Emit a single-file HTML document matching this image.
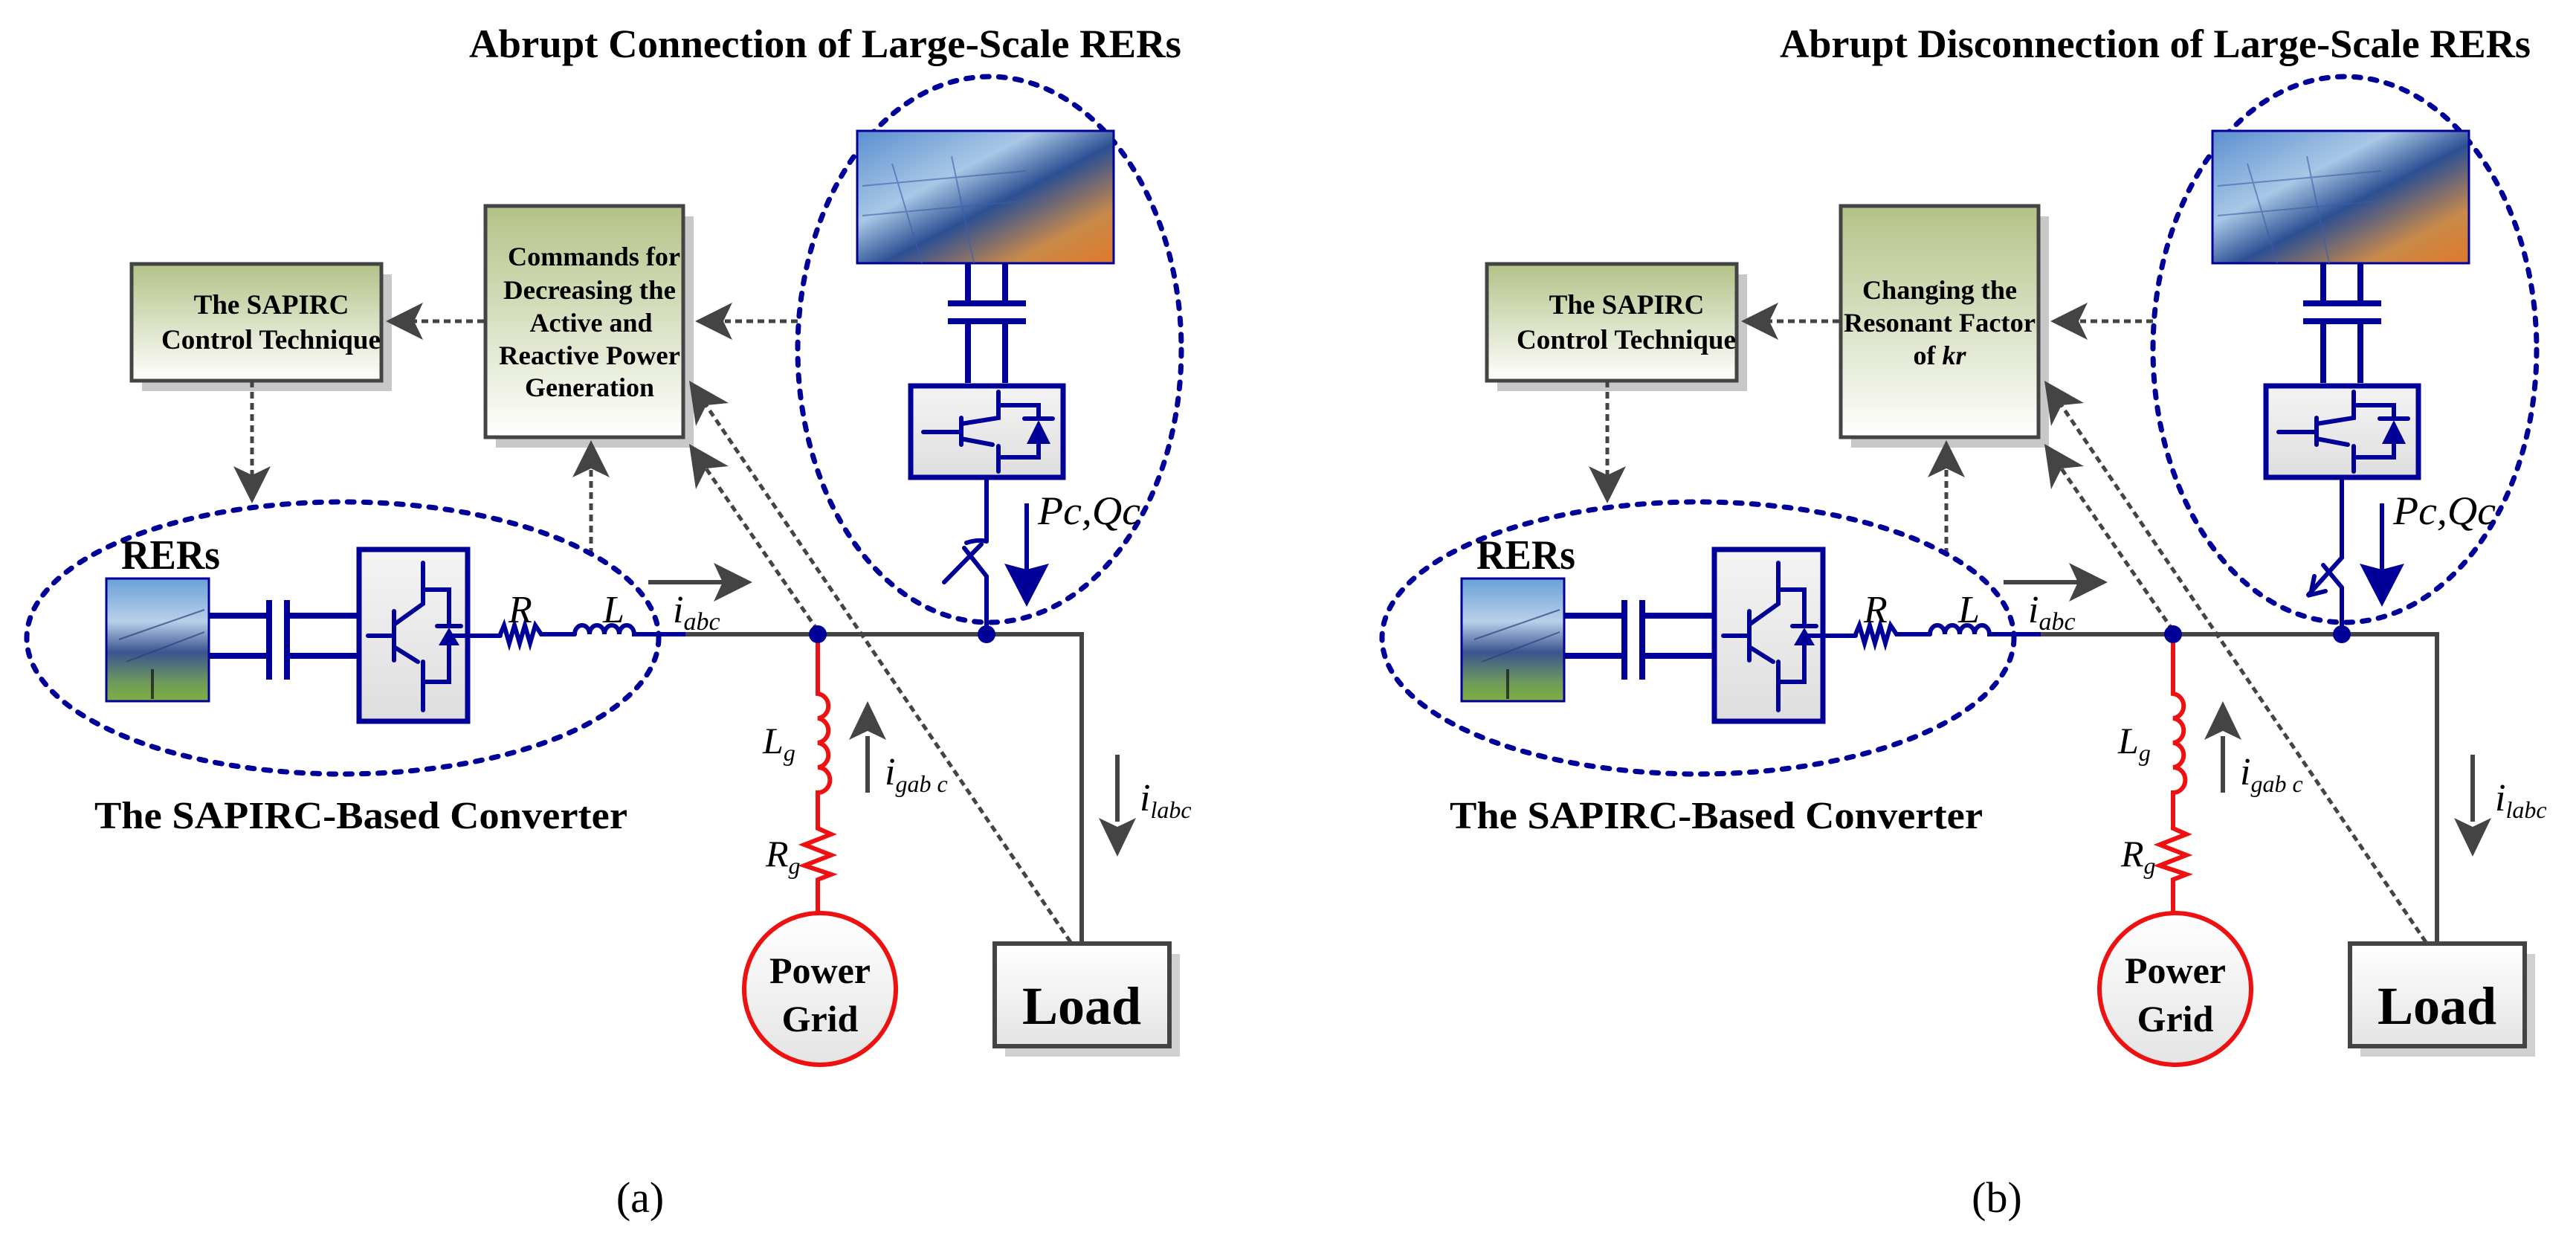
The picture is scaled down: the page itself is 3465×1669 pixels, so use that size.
<!DOCTYPE html>
<html><head><meta charset="utf-8"><style>html,body{margin:0;padding:0;background:#fff}svg{display:block}</style></head>
<body>
<svg width="3465" height="1669" viewBox="0 0 3465 1669" xmlns="http://www.w3.org/2000/svg" font-family="Liberation Serif, serif">
<defs>
<linearGradient id="gr" x1="0" y1="0" x2="0" y2="1"><stop offset="0" stop-color="#b3c287"/><stop offset="1" stop-color="#ffffff"/></linearGradient>
<linearGradient id="inv" x1="0" y1="0" x2="0" y2="1"><stop offset="0" stop-color="#f4f4f4"/><stop offset="1" stop-color="#dedede"/></linearGradient>
<linearGradient id="pg" x1="0" y1="0" x2="0" y2="1"><stop offset="0" stop-color="#ffffff"/><stop offset="1" stop-color="#e4e4e4"/></linearGradient>
<linearGradient id="ph1" x1="0" y1="0" x2="1" y2="1"><stop offset="0" stop-color="#5b8fd0"/><stop offset="0.35" stop-color="#a9c7e6"/><stop offset="0.55" stop-color="#2c4f93"/><stop offset="0.8" stop-color="#c98a4a"/><stop offset="1" stop-color="#e0782a"/></linearGradient>
<linearGradient id="ph2" x1="0" y1="0" x2="0" y2="1"><stop offset="0" stop-color="#6aa0d8"/><stop offset="0.35" stop-color="#b9d0ea"/><stop offset="0.6" stop-color="#3a5590"/><stop offset="0.85" stop-color="#6f9a5a"/><stop offset="1" stop-color="#7fb040"/></linearGradient>
</defs>

<g id="pa">
<text x="631" y="77" font-size="54" font-weight="bold" textLength="958" lengthAdjust="spacingAndGlyphs">Abrupt Connection of Large-Scale RERs</text>
<ellipse cx="1331" cy="470" rx="258" ry="367" fill="none" stroke="#000099" stroke-width="7" stroke-dasharray="9 13" stroke-linecap="round"/>
<rect x="1153" y="176" width="345" height="178" fill="url(#ph1)" stroke="#000099" stroke-width="3"/>
<g stroke="#3b5fa8" stroke-width="2" opacity="0.6"><line x1="1160" y1="250" x2="1380" y2="230"/><line x1="1160" y1="290" x2="1380" y2="270"/><line x1="1200" y1="220" x2="1240" y2="354"/><line x1="1280" y1="210" x2="1310" y2="354"/></g>
<g stroke="#000099" stroke-width="8" fill="none">
<path d="M1302 354V408M1352 354V408M1302 432V515M1352 432V515"/>
<path d="M1275 408H1380M1275 432H1380"/>
</g>
<rect x="1225" y="519" width="205" height="123" fill="url(#inv)" stroke="#000099" stroke-width="7"/>
<g stroke="#000099" stroke-width="6" fill="none" stroke-linecap="round">
<path d="M1242 581H1293M1293 562V598M1293 570L1343 562V527M1343 545H1397V563M1293 590L1335 598M1343 600V634M1343 615H1397V597M1378 563H1416"/>
<path d="M1327 645V728M1300 730Q1315 725 1327 728M1297 737L1327 775V854M1270 783L1320 732"/>
</g>
<polygon points="1397,565 1381,597 1413,597" fill="#000099"/>
<line x1="1381" y1="677" x2="1381" y2="770" stroke="#000099" stroke-width="6"/>
<polygon points="1381,816 1351,758 1381,766 1411,758" fill="#000099"/>
<text x="1396" y="705" font-size="54" font-style="italic" textLength="138" lengthAdjust="spacingAndGlyphs">Pc,Qc</text>
<rect x="191" y="369" width="336" height="157" fill="#c8c8c8"/>
<rect x="177" y="355" width="336" height="157" fill="url(#gr)" stroke="#444" stroke-width="5"/>
<g font-weight="bold">
<text x="365" y="422" font-size="37" text-anchor="middle">The SAPIRC</text>
<text x="217" y="469" font-size="37" textLength="295" lengthAdjust="spacingAndGlyphs">Control Technique</text>
</g>
<rect x="667" y="291" width="266" height="311" fill="#c8c8c8"/>
<rect x="653" y="277" width="266" height="311" fill="url(#gr)" stroke="#444" stroke-width="5"/>
<g font-size="36" text-anchor="middle" font-weight="bold">
<text x="799" y="357" textLength="232" lengthAdjust="spacingAndGlyphs">Commands for</text>
<text x="793" y="402" textLength="232" lengthAdjust="spacingAndGlyphs">Decreasing the</text>
<text x="795" y="446">Active and</text>
<text x="793" y="490" textLength="244" lengthAdjust="spacingAndGlyphs">Reactive Power</text>
<text x="793" y="533">Generation</text>
</g>
<g stroke="#444" stroke-width="5" stroke-dasharray="9 6" fill="none">
<path d="M1073 432H975M651 432H555M339 512V640M795 746V630M1440 1267L945 538M1100 848L940 616"/>
</g>
<g fill="#444">
<polygon points="935,432 985,407 973,432 985,457"/>
<polygon points="519,432 569,407 557,432 569,457"/>
<polygon points="339,677 314,627 339,639 364,627"/>
<polygon points="795,592 770,642 795,630 820,642"/>
<polygon points="927,512 980,542 950,545 936,573"/>
<polygon points="927,597 980,627 950,630 936,658"/>
</g>
<ellipse cx="461" cy="858" rx="425" ry="183" fill="none" stroke="#000099" stroke-width="7" stroke-dasharray="9 13" stroke-linecap="round"/>
<text x="163" y="765" font-size="56" font-weight="bold" textLength="133" lengthAdjust="spacingAndGlyphs">RERs</text>
<rect x="143" y="778" width="138" height="165" fill="url(#ph2)" stroke="#000099" stroke-width="3"/>
<g stroke="#2a3f7a" stroke-width="2" opacity="0.7"><line x1="160" y1="860" x2="275" y2="820"/><line x1="170" y1="890" x2="275" y2="850"/><line x1="205" y1="900" x2="205" y2="940" stroke="#111" stroke-width="4"/></g>
<g stroke="#000099" stroke-width="8" fill="none">
<path d="M281 828H362M281 882H362M362 807V914M386 807V914M386 828H483M386 882H483"/>
</g>
<rect x="483" y="739" width="146" height="231" fill="url(#inv)" stroke="#000099" stroke-width="7"/>
<g stroke="#000099" stroke-width="6" fill="none" stroke-linecap="round">
<path d="M495 855H530M530 822V888M530 840L569 812V757M569 793H604V842M530 870L562 890M569 890V955M569 917H604V868M588 842H620M604 855H673"/>
<path d="M673 853L678 841L685 865L692 841L699 865L706 841L713 865L720 841L728 853H773"/>
<path d="M773 853A10 12 0 0 1 793 853A10 12 0 0 1 813 853A10 12 0 0 1 833 853A10 12 0 0 1 853 853H922"/>
</g>
<polygon points="604,844 590,868 618,868" fill="#000099"/>
<text x="684" y="837" font-size="52" font-style="italic">R</text>
<text x="811" y="837" font-size="52" font-style="italic">L</text>
<text x="905" y="837" font-size="52" font-style="italic">i<tspan font-size="34" dy="10">abc</tspan></text>
<line x1="872" y1="783" x2="975" y2="783" stroke="#444" stroke-width="6"/>
<polygon points="1012,783 960,757 972,783 960,809" fill="#444"/>
<text x="127" y="1114" font-size="52" font-weight="bold" textLength="717" lengthAdjust="spacingAndGlyphs">The SAPIRC-Based Converter</text>
<path d="M922 853H1455V1269" fill="none" stroke="#444" stroke-width="6"/>
<g stroke="#ee1111" stroke-width="6" fill="none">
<path d="M1100 853V933A16 16.6 0 0 1 1100 966A16 16.6 0 0 1 1100 999A16 16.6 0 0 1 1100 1032A16 16.6 0 0 1 1100 1066V1114L1118 1122L1082 1136L1118 1150L1082 1164L1118 1176L1100 1183V1228"/>
<circle cx="1103" cy="1330" r="102" fill="url(#pg)"/>
</g>
<circle cx="1100" cy="853" r="12" fill="#000099"/>
<circle cx="1327" cy="853" r="12" fill="#000099"/>
<text x="1103" y="1322" font-size="50" font-weight="bold" text-anchor="middle">Power</text>
<text x="1103" y="1387" font-size="50" font-weight="bold" text-anchor="middle">Grid</text>
<text x="1026" y="1013" font-size="50" font-style="italic">L<tspan font-size="32" dy="10">g</tspan></text>
<text x="1030" y="1165" font-size="50" font-style="italic">R<tspan font-size="32" dy="10">g</tspan></text>
<line x1="1167" y1="1066" x2="1167" y2="990" stroke="#444" stroke-width="6"/>
<polygon points="1167,943 1142,995 1167,983 1192,995" fill="#444"/>
<text x="1190" y="1055" font-size="52" font-style="italic">i<tspan font-size="32" dy="10">gab c</tspan></text>
<line x1="1503" y1="1015" x2="1503" y2="1105" stroke="#444" stroke-width="6"/>
<polygon points="1503,1152 1478,1100 1503,1112 1528,1100" fill="#444"/>
<text x="1533" y="1090" font-size="52" font-style="italic">i<tspan font-size="32" dy="10">labc</tspan></text>
<rect x="1352" y="1283" width="235" height="138" fill="#d0d0d0"/>
<rect x="1338" y="1269" width="235" height="138" fill="url(#pg)" stroke="#444" stroke-width="6"/>
<text x="1455" y="1377" font-size="72" font-weight="bold" text-anchor="middle">Load</text>
<text x="861" y="1630" font-size="58" text-anchor="middle">(a)</text>
</g>

<g transform="translate(1823,0)">
<text x="571" y="77" font-size="54" font-weight="bold" textLength="1010" lengthAdjust="spacingAndGlyphs">Abrupt Disconnection of Large-Scale RERs</text>
<ellipse cx="1331" cy="470" rx="258" ry="367" fill="none" stroke="#000099" stroke-width="7" stroke-dasharray="9 13" stroke-linecap="round"/>
<rect x="1153" y="176" width="345" height="178" fill="url(#ph1)" stroke="#000099" stroke-width="3"/>
<g stroke="#3b5fa8" stroke-width="2" opacity="0.6"><line x1="1160" y1="250" x2="1380" y2="230"/><line x1="1160" y1="290" x2="1380" y2="270"/><line x1="1200" y1="220" x2="1240" y2="354"/><line x1="1280" y1="210" x2="1310" y2="354"/></g>
<g stroke="#000099" stroke-width="8" fill="none">
<path d="M1302 354V408M1352 354V408M1302 432V515M1352 432V515"/>
<path d="M1275 408H1380M1275 432H1380"/>
</g>
<rect x="1225" y="519" width="205" height="123" fill="url(#inv)" stroke="#000099" stroke-width="7"/>
<g stroke="#000099" stroke-width="6" fill="none" stroke-linecap="round">
<path d="M1242 581H1293M1293 562V598M1293 570L1343 562V527M1343 545H1397V563M1293 590L1335 598M1343 600V634M1343 615H1397V597M1378 563H1416"/>
<path d="M1327 645V750L1282 800M1290 775L1285 800L1305 795M1327 790V854M1302 760L1327 790"/>
</g>
<polygon points="1397,565 1381,597 1413,597" fill="#000099"/>
<line x1="1381" y1="677" x2="1381" y2="770" stroke="#000099" stroke-width="6"/>
<polygon points="1381,816 1351,758 1381,766 1411,758" fill="#000099"/>
<text x="1396" y="705" font-size="54" font-style="italic" textLength="138" lengthAdjust="spacingAndGlyphs">Pc,Qc</text>
<rect x="191" y="369" width="336" height="157" fill="#c8c8c8"/>
<rect x="177" y="355" width="336" height="157" fill="url(#gr)" stroke="#444" stroke-width="5"/>
<g font-weight="bold">
<text x="365" y="422" font-size="37" text-anchor="middle">The SAPIRC</text>
<text x="217" y="469" font-size="37" textLength="295" lengthAdjust="spacingAndGlyphs">Control Technique</text>
</g>
<rect x="667" y="291" width="266" height="311" fill="#c8c8c8"/>
<rect x="653" y="277" width="266" height="311" fill="url(#gr)" stroke="#444" stroke-width="5"/>
<g font-size="36" text-anchor="middle" font-weight="bold">
<text x="786" y="402" textLength="208" lengthAdjust="spacingAndGlyphs">Changing the</text>
<text x="786" y="446" textLength="258" lengthAdjust="spacingAndGlyphs">Resonant Factor</text>
<text x="786" y="490">of <tspan font-style="italic">kr</tspan></text>
</g>
<g stroke="#444" stroke-width="5" stroke-dasharray="9 6" fill="none">
<path d="M1073 432H975M651 432H555M339 512V640M795 746V630M1440 1267L945 538M1100 848L940 616"/>
</g>
<g fill="#444">
<polygon points="935,432 985,407 973,432 985,457"/>
<polygon points="519,432 569,407 557,432 569,457"/>
<polygon points="339,677 314,627 339,639 364,627"/>
<polygon points="795,592 770,642 795,630 820,642"/>
<polygon points="927,512 980,542 950,545 936,573"/>
<polygon points="927,597 980,627 950,630 936,658"/>
</g>
<ellipse cx="461" cy="858" rx="425" ry="183" fill="none" stroke="#000099" stroke-width="7" stroke-dasharray="9 13" stroke-linecap="round"/>
<text x="163" y="765" font-size="56" font-weight="bold" textLength="133" lengthAdjust="spacingAndGlyphs">RERs</text>
<rect x="143" y="778" width="138" height="165" fill="url(#ph2)" stroke="#000099" stroke-width="3"/>
<g stroke="#2a3f7a" stroke-width="2" opacity="0.7"><line x1="160" y1="860" x2="275" y2="820"/><line x1="170" y1="890" x2="275" y2="850"/><line x1="205" y1="900" x2="205" y2="940" stroke="#111" stroke-width="4"/></g>
<g stroke="#000099" stroke-width="8" fill="none">
<path d="M281 828H362M281 882H362M362 807V914M386 807V914M386 828H483M386 882H483"/>
</g>
<rect x="483" y="739" width="146" height="231" fill="url(#inv)" stroke="#000099" stroke-width="7"/>
<g stroke="#000099" stroke-width="6" fill="none" stroke-linecap="round">
<path d="M495 855H530M530 822V888M530 840L569 812V757M569 793H604V842M530 870L562 890M569 890V955M569 917H604V868M588 842H620M604 855H673"/>
<path d="M673 853L678 841L685 865L692 841L699 865L706 841L713 865L720 841L728 853H773"/>
<path d="M773 853A10 12 0 0 1 793 853A10 12 0 0 1 813 853A10 12 0 0 1 833 853A10 12 0 0 1 853 853H922"/>
</g>
<polygon points="604,844 590,868 618,868" fill="#000099"/>
<text x="684" y="837" font-size="52" font-style="italic">R</text>
<text x="811" y="837" font-size="52" font-style="italic">L</text>
<text x="905" y="837" font-size="52" font-style="italic">i<tspan font-size="34" dy="10">abc</tspan></text>
<line x1="872" y1="783" x2="975" y2="783" stroke="#444" stroke-width="6"/>
<polygon points="1012,783 960,757 972,783 960,809" fill="#444"/>
<text x="127" y="1114" font-size="52" font-weight="bold" textLength="717" lengthAdjust="spacingAndGlyphs">The SAPIRC-Based Converter</text>
<path d="M922 853H1455V1269" fill="none" stroke="#444" stroke-width="6"/>
<g stroke="#ee1111" stroke-width="6" fill="none">
<path d="M1100 853V933A16 16.6 0 0 1 1100 966A16 16.6 0 0 1 1100 999A16 16.6 0 0 1 1100 1032A16 16.6 0 0 1 1100 1066V1114L1118 1122L1082 1136L1118 1150L1082 1164L1118 1176L1100 1183V1228"/>
<circle cx="1103" cy="1330" r="102" fill="url(#pg)"/>
</g>
<circle cx="1100" cy="853" r="12" fill="#000099"/>
<circle cx="1327" cy="853" r="12" fill="#000099"/>
<text x="1103" y="1322" font-size="50" font-weight="bold" text-anchor="middle">Power</text>
<text x="1103" y="1387" font-size="50" font-weight="bold" text-anchor="middle">Grid</text>
<text x="1026" y="1013" font-size="50" font-style="italic">L<tspan font-size="32" dy="10">g</tspan></text>
<text x="1030" y="1165" font-size="50" font-style="italic">R<tspan font-size="32" dy="10">g</tspan></text>
<line x1="1167" y1="1066" x2="1167" y2="990" stroke="#444" stroke-width="6"/>
<polygon points="1167,943 1142,995 1167,983 1192,995" fill="#444"/>
<text x="1190" y="1055" font-size="52" font-style="italic">i<tspan font-size="32" dy="10">gab c</tspan></text>
<line x1="1503" y1="1015" x2="1503" y2="1105" stroke="#444" stroke-width="6"/>
<polygon points="1503,1152 1478,1100 1503,1112 1528,1100" fill="#444"/>
<text x="1533" y="1090" font-size="52" font-style="italic">i<tspan font-size="32" dy="10">labc</tspan></text>
<rect x="1352" y="1283" width="235" height="138" fill="#d0d0d0"/>
<rect x="1338" y="1269" width="235" height="138" fill="url(#pg)" stroke="#444" stroke-width="6"/>
<text x="1455" y="1377" font-size="72" font-weight="bold" text-anchor="middle">Load</text>
<text x="863" y="1630" font-size="58" text-anchor="middle">(b)</text>
</g>
</svg>
</body></html>
